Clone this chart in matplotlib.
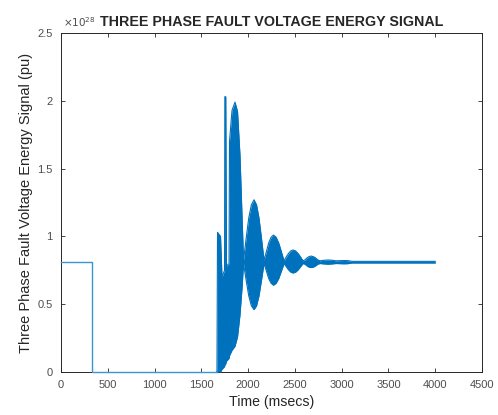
import matplotlib
matplotlib.use("Agg")
import matplotlib.pyplot as plt

plt.rcParams['font.family'] = ['Liberation Sans', 'DejaVu Sans']

# ---- data (values in units of 1e28 pu, time in msecs) ----
pre_t = [0, 331, 331, 1667]
pre_v = [0.81, 0.81, 0.0, 0.0]

env_t = [1667, 1673, 1705, 1721, 1748, 1751, 1761, 1769, 1796, 1801, 1828, 1860,
         1887, 1913, 1935, 1951,
         1979, 2007, 2035, 2063, 2090, 2116, 2143, 2170,
         2195, 2220, 2246, 2271, 2299, 2327, 2356, 2384,
         2408, 2432, 2456, 2480, 2507, 2534, 2560, 2587,
         2608, 2630, 2651, 2672, 2696, 2720, 2744, 2768,
         2811, 2854, 2897, 2939,
         2982, 3025, 3068, 3110,
         4000]
env_hi = [0.0, 1.03, 1.00, 0.70, 0.75, 2.03, 2.03, 0.78, 0.80, 1.70, 1.93, 1.99,
          1.92, 1.60, 1.15, 0.825,
          0.985, 1.137, 1.233, 1.27, 1.233, 1.137, 0.985, 0.825,
          0.886, 0.952, 0.994, 1.01, 0.994, 0.952, 0.886, 0.82,
          0.849, 0.874, 0.893, 0.90, 0.893, 0.874, 0.849, 0.82,
          0.827, 0.842, 0.851, 0.855, 0.851, 0.842, 0.827, 0.82,
          0.824, 0.826, 0.824, 0.82,
          0.821, 0.822, 0.821, 0.816,
          0.816]
env_lo = [0.0, 0.0, 0.0, 0.02, 0.04, 0.05, 0.06, 0.08, 0.10, 0.12, 0.16, 0.19,
          0.26, 0.42, 0.62, 0.80,
          0.677, 0.561, 0.488, 0.46, 0.488, 0.561, 0.677, 0.80,
          0.745, 0.689, 0.654, 0.64, 0.654, 0.689, 0.745, 0.80,
          0.776, 0.753, 0.736, 0.73, 0.736, 0.753, 0.776, 0.80,
          0.795, 0.782, 0.773, 0.77, 0.773, 0.782, 0.795, 0.80,
          0.797, 0.795, 0.797, 0.80,
          0.799, 0.798, 0.799, 0.804,
          0.804]

x_ticks = [0, 500, 1000, 1500, 2000, 2500, 3000, 3500, 4000, 4500]
y_ticks = [0, 0.5, 1, 1.5, 2, 2.5]
y_tick_labels = ['0', '0.5', '1', '1.5', '2', '2.5']

blue = '#0072BD'
grey = '#262626'

fig = plt.figure(figsize=(4.98, 4.15), dpi=100)
ax = fig.add_axes([61/498, 1 - 372/415, 421/498, 339/415])

ax.plot(pre_t, pre_v, color='#3d94d3', lw=1.0, clip_on=False, zorder=3)
ax.fill_between(env_t, env_lo, env_hi, color=blue, lw=0, zorder=3)
ax.plot(env_t, env_hi, color=blue, lw=0.8, zorder=3)
ax.plot(env_t, env_lo, color=blue, lw=0.8, zorder=3)

ax.set_xlim(0, 4500)
ax.set_ylim(0, 2.5)
ax.set_xticks(x_ticks)
ax.set_xticklabels([str(v) for v in x_ticks])
ax.set_yticks(y_ticks)
ax.set_yticklabels(y_tick_labels)
ax.tick_params(direction='in', length=3, width=0.6, colors=grey, labelsize=8,
               top=True, right=True, labelcolor='#4d4d4d', pad=6)
for s in ax.spines.values():
    s.set_color(grey)
    s.set_linewidth(0.7)

ax.set_xlabel('Time (msecs)', fontsize=10.2, color=grey, labelpad=3)
ax.set_ylabel('Three Phase Fault Voltage Energy Signal (pu)', fontsize=10.5,
              color=grey, labelpad=3)
ax.set_title('THREE PHASE FAULT VOLTAGE ENERGY SIGNAL', fontsize=10.3,
             fontweight='bold', color=grey, pad=5)
ax.text(0.005, 1.012, r'$\times10^{28}$', transform=ax.transAxes, fontsize=7.5,
        color='#4d4d4d', ha='left', va='bottom')

fig.savefig('out.png', dpi=100)
